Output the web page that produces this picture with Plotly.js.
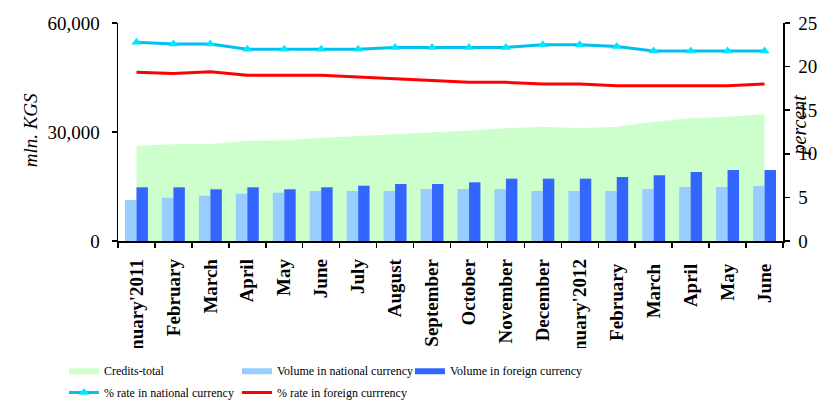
<!DOCTYPE html>
<html>
<head>
<meta charset="utf-8">
<script src="https://cdn.plot.ly/plotly-3.0.1.min.js"></script>
<style>
html,body{margin:0;padding:0;background:#fff;}
#chart{width:819px;height:401px;}
</style>
</head>
<body>
<div id="chart"></div>
<script>
// Data
var months = ["January'2011","February","March","April","May","June","July","August","September",
              "October","November","December","January'2012","February ","March ","April ","May ","June "];
var creditsTotal = [26230,26610,26700,27600,27710,28430,28900,29360,29800,
                    30400,31010,31460,31010,31460,32830,33770,34210,34870];
var volNational  = [11280,11920,12470,13020,13300,13760,13760,13760,14310,
                    14310,14310,13760,13760,13760,14310,14860,14860,15140];
var volForeign   = [14780,14780,14230,14780,14230,14780,15220,15690,15690,
                    16150,17150,17150,17150,17610,18070,18990,19540,19540];
var rateNational = [22.8,22.6,22.6,22.0,22.0,22.0,22.0,22.2,22.2,
                    22.2,22.2,22.5,22.5,22.3,21.8,21.8,21.8,21.8];
var rateForeign  = [19.35,19.2,19.4,19.0,19.0,19.0,18.8,18.6,18.4,
                    18.2,18.2,18.0,18.0,17.8,17.8,17.8,17.8,18.0];

var serif = "'Liberation Serif', 'Times New Roman', serif";

var traces = [
  {type:'scatter', mode:'lines', x:months, y:creditsTotal, name:'Credits-total',
   fill:'tozeroy', fillcolor:'#CCFFCC', line:{width:0, color:'#CCFFCC'},
   xaxis:'x', yaxis:'y', legend:'legend'},
  // legend-only swatches (wide rectangles like the reference legend)
  {type:'scatter', mode:'lines', x:[null], y:[null], name:'Volume in national currency',
   fill:'tozeroy', fillcolor:'#99CCFF', line:{width:0, color:'#99CCFF'},
   xaxis:'x', yaxis:'y', legend:'legend'},
  {type:'scatter', mode:'lines', x:[null], y:[null], name:'Volume in foreign currency',
   fill:'tozeroy', fillcolor:'#3366FF', line:{width:0, color:'#3366FF'},
   xaxis:'x', yaxis:'y', legend:'legend'},
  {type:'bar', x:months, y:volNational, name:'Volume in national currency', showlegend:false,
   marker:{color:'#99CCFF'}, xaxis:'x', yaxis:'y3'},
  {type:'bar', x:months, y:volForeign, name:'Volume in foreign currency', showlegend:false,
   marker:{color:'#3366FF'}, xaxis:'x', yaxis:'y3'},
  {type:'scatter', mode:'lines+markers', x:months, y:rateNational, name:'% rate in national currency',
   line:{color:'#00C0F0', width:3}, marker:{symbol:'triangle-up', size:9, color:'#00E8FF'},
   xaxis:'x', yaxis:'y2', legend:'legend2'},
  {type:'scatter', mode:'lines', x:months, y:rateForeign, name:'% rate in foreign currrency',
   line:{color:'#FF0000', width:3}, xaxis:'x', yaxis:'y2', legend:'legend2'}
];

var axisLine = {ticks:'outside', ticklen:5, tickwidth:1.5, tickcolor:'#000', showline:true,
                linecolor:'#000', linewidth:1.5, showgrid:false, zeroline:false, automargin:false};

var layout = {
  width:819, height:401,
  margin:{l:118, r:36, t:23, b:160, autoexpand:false},
  paper_bgcolor:'#ffffff', plot_bgcolor:'#ffffff',
  font:{family:serif, color:'#000000'},
  barmode:'group', bargap:0.38, bargroupgap:0,
  showlegend:true,
  xaxis:Object.assign({}, axisLine, {type:'category', range:[-0.5, months.length-0.5],
         autorange:false, tickson:'boundaries', tickangle:-90, ticklabelstandoff:9,
         tickfont:{family:serif, size:19, weight:'bold', color:'#000'}}),
  yaxis:Object.assign({}, axisLine, {range:[0,60000], tickvals:[0,30000,60000], tickformat:',',
         ticklabelstandoff:8, tickfont:{family:serif, size:19, color:'#000'}}),
  yaxis2:Object.assign({}, axisLine, {overlaying:'y', side:'right', range:[0,25], dtick:5,
         ticklabelstandoff:5, tickfont:{family:serif, size:19, color:'#000'}}),
  yaxis3:{overlaying:'y', range:[0,60000], visible:false, showgrid:false, zeroline:false},
  legend:{orientation:'h', xref:'container', yref:'container', x:0.0781, xanchor:'left',
          y:0.113, yanchor:'top', entrywidth:128, font:{family:serif, size:12, color:'#000'},
          bgcolor:'rgba(0,0,0,0)', traceorder:'normal'},
  legend2:{orientation:'h', xref:'container', yref:'container', x:0.0781, xanchor:'left',
          y:0.0574, yanchor:'top', entrywidth:128, font:{family:serif, size:12, color:'#000'},
          bgcolor:'rgba(0,0,0,0)', traceorder:'normal'},
  annotations:[
    {text:'mln. KGS', xref:'paper', yref:'paper', x:-0.1504, y:0.51, showarrow:false,
     textangle:-90, font:{family:serif, size:19, style:'italic', color:'#000'}},
    {text:'percent', xref:'paper', yref:'paper', x:1.045, y:0.532, showarrow:false,
     textangle:-90, font:{family:serif, size:20, style:'italic', color:'#000'}}
  ]
};

Plotly.newPlot('chart', traces, layout, {displayModeBar:false, staticPlot:true}).then(function(){
  // the reference crops its rotated month labels at the legend's top edge
  var svg = document.querySelector('#chart .main-svg');
  var ns = 'http://www.w3.org/2000/svg';
  var defs = svg.querySelector('defs') || svg.insertBefore(document.createElementNS(ns,'defs'), svg.firstChild);
  var cp = document.createElementNS(ns,'clipPath');
  cp.setAttribute('id','xlabelclip');
  var r = document.createElementNS(ns,'rect');
  r.setAttribute('x','0'); r.setAttribute('y','0');
  r.setAttribute('width','819'); r.setAttribute('height','348');
  cp.appendChild(r); defs.appendChild(cp);
  var g = svg.querySelector('.xaxislayer-above');
  if (g) g.setAttribute('clip-path','url(#xlabelclip)');
});
</script>
</body>
</html>
